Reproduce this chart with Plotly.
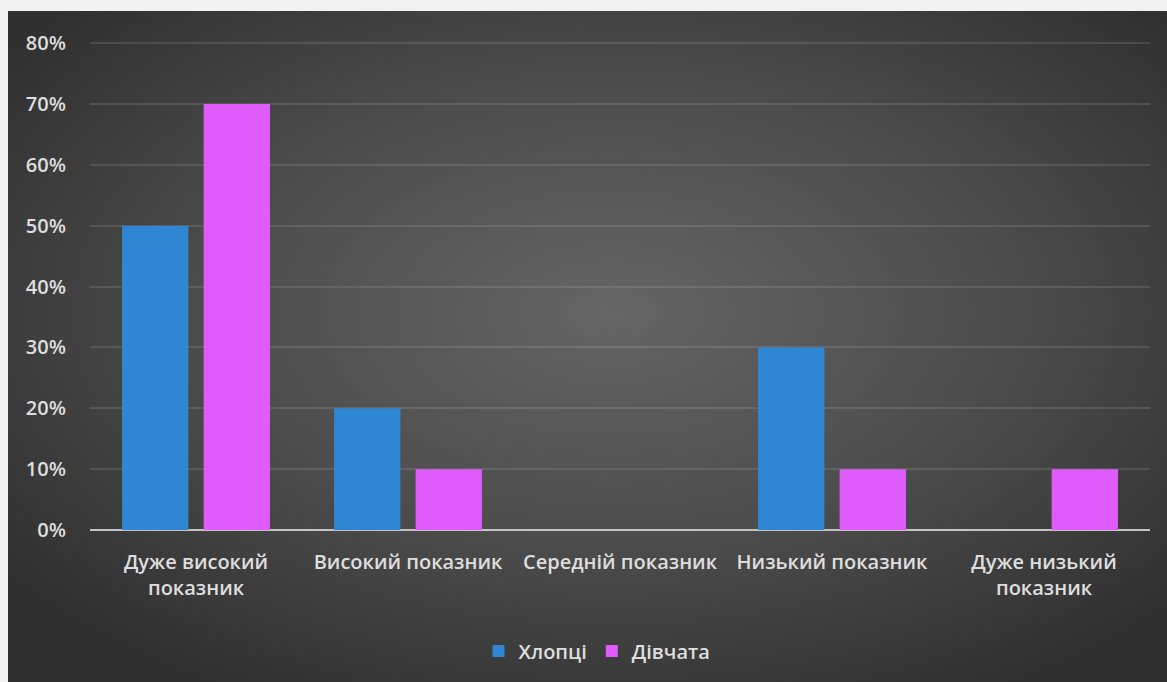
import base64
import plotly.graph_objects as go

# Data
categories = [
    "Дуже високий<br>показник",
    "Високий показник",
    "Середній показник",
    "Низький показник",
    "Дуже низький<br>показник",
]
boys = [0.50, 0.20, 0.00, 0.30, 0.00]
girls = [0.70, 0.10, 0.00, 0.10, 0.10]
series_names = ["Хлопці", "Дівчата"]
y_ticks = [0, 0.1, 0.2, 0.3, 0.4, 0.5, 0.6, 0.7, 0.8]

W, H = 1167, 682
L, R, T, B = 90, 17, 42, 152
pw, ph = W - L - R, H - T - B

def px_to_paper_x(px):
    return (px - L) / pw

def px_to_paper_y(py):
    return (H - B - py) / ph

# Dark radial-gradient panel behind the chart
svg = f"""<svg xmlns='http://www.w3.org/2000/svg' width='{W-8}' height='{H-11}' preserveAspectRatio='none' viewBox='0 0 {W-8} {H-11}'>
<defs><radialGradient id='g' cx='52%' cy='45%' r='65%'>
<stop offset='0%' stop-color='#656565'/>
<stop offset='55%' stop-color='#4b4b4b'/>
<stop offset='100%' stop-color='#303030'/>
</radialGradient></defs>
<rect width='100%' height='100%' fill='url(#g)'/>
</svg>"""
svg_uri = "data:image/svg+xml;base64," + base64.b64encode(svg.encode()).decode()

text_color = "#dedede"
font_family = "Open Sans, sans-serif"
label_font = dict(family=font_family, size=20, color=text_color, weight=600)

fig = go.Figure()
fig.add_trace(go.Bar(
    x=categories, y=boys, name=series_names[0],
    marker=dict(color="#2f86d3", line=dict(width=0)),
    width=0.313, offset=-0.349,
))
fig.add_trace(go.Bar(
    x=categories, y=girls, name=series_names[1],
    marker=dict(color="#df5cfb", line=dict(width=0)),
    width=0.313, offset=0.036,
))

fig.update_layout(
    width=W, height=H,
    margin=dict(l=L, r=R, t=T, b=B, pad=0),
    paper_bgcolor="#f2f2f2",
    plot_bgcolor="rgba(0,0,0,0)",
    font=label_font,
    barmode="group",
    showlegend=True,
    legend=dict(
        orientation="h",
        x=px_to_paper_x(597), xanchor="center",
        y=px_to_paper_y(651), yanchor="middle",
        font=label_font,
        bgcolor="rgba(0,0,0,0)",
        itemwidth=30,
        traceorder="normal",
    ),
    images=[dict(
        source=svg_uri, xref="paper", yref="paper",
        x=px_to_paper_x(8), y=px_to_paper_y(11),
        sizex=(W - 8) / pw, sizey=(H - 11) / ph,
        xanchor="left", yanchor="top",
        sizing="stretch", layer="below",
    )],
    xaxis=dict(
        type="category",
        showgrid=False, zeroline=False, showline=False,
        ticks="", tickfont=label_font,
        ticklabelstandoff=18,
    ),
    yaxis=dict(
        range=[0, 0.802],
        tickvals=y_ticks, tickformat=".0%",
        showgrid=True, gridcolor="rgba(255,255,255,0.11)", gridwidth=2,
        zeroline=True, zerolinecolor="#c4c4c4", zerolinewidth=2,
        showline=False, ticks="",
        tickfont=label_font,
        ticklabelstandoff=23,
    ),
)

fig.write_html("out.html")
